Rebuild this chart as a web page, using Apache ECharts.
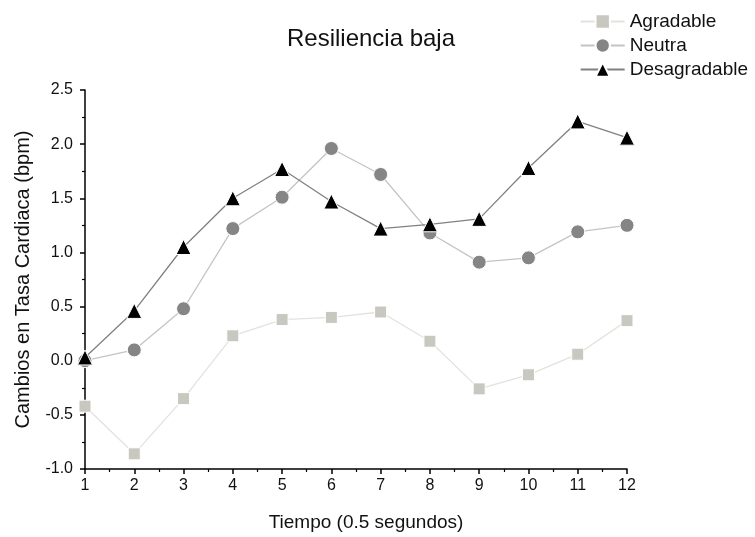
<!DOCTYPE html>
<html><head><meta charset="utf-8">
<script src="https://cdn.jsdelivr.net/npm/echarts@6/dist/echarts.min.js"></script>
<style>html,body{margin:0;padding:0;background:#fff}#c{width:755px;height:537px}</style>
</head><body><div id="c"></div>
<script>
const tiempo = [1,2,3,4,5,6,7,8,9,10,11,12];
const agradable = [-0.42,-0.86,-0.35,0.23,0.38,0.40,0.45,0.18,-0.26,-0.13,0.06,0.37];
const neutra = [0.00,0.10,0.48,1.22,1.51,1.96,1.72,1.18,0.91,0.95,1.19,1.25];
const desagradable = [0.03,0.46,1.05,1.50,1.77,1.47,1.22,1.26,1.31,1.78,2.21,2.06];
const seriesNames = ['Agradable','Neutra','Desagradable'];

const pair = arr => tiempo.map((t,i)=>[t,arr[i]]);
const F = 'Liberation Sans, Arial, sans-serif';
const chart = echarts.init(document.getElementById('c'), null, {renderer:'canvas'});
chart.setOption({
  animation:false,
  title:{text:'Resiliencia baja',left:366,top:22,textAlign:'center',textStyle:{fontFamily:F,fontSize:24,fontWeight:'normal',color:'#111'}},
  legend:{orient:'vertical',right:2,top:7,itemWidth:44,itemHeight:18,itemGap:5,
    textStyle:{fontFamily:F,fontSize:19,color:'#111'},data:seriesNames},
  grid:{left:85,right:128,top:90,bottom:66},
  xAxis:{type:'value',min:1,max:12,interval:1,name:'Tiempo (0.5 segundos)',nameLocation:'middle',nameGap:44,
    nameTextStyle:{fontFamily:F,fontSize:19,color:'#111',padding:[0,0,0,20]},
    axisLine:{onZero:false,lineStyle:{color:'#000',width:1.5}},
    axisTick:{show:true,inside:false,length:5,lineStyle:{color:'#000',width:1.5}},
    minorTick:{show:true,splitNumber:2,length:3,lineStyle:{color:'#000',width:1.2}},
    splitLine:{show:false},
    axisLabel:{fontFamily:F,fontSize:16,color:'#111',margin:9}},
  yAxis:{type:'value',min:-1,max:2.5,interval:0.5,name:'Cambios en Tasa Cardiaca (bpm)',nameLocation:'middle',nameGap:52,
    nameTextStyle:{fontFamily:F,fontSize:20,color:'#111',padding:[0,0,0,0]},
    axisLine:{show:true,onZero:false,lineStyle:{color:'#000',width:1.5}},
    axisTick:{show:true,inside:false,length:5,lineStyle:{color:'#000',width:1.5}},
    minorTick:{show:true,splitNumber:2,length:3,lineStyle:{color:'#000',width:1.2}},
    splitLine:{show:false},
    axisLabel:{fontFamily:F,fontSize:16,color:'#111',margin:12,formatter:v=>v.toFixed(1)}},
  series:[
    {name:seriesNames[0],type:'line',data:pair(agradable),symbol:'rect',symbolSize:12,
      lineStyle:{color:'#e2e2de',width:1.3},itemStyle:{color:'#c8c8c0',borderColor:'#fff',borderWidth:1},z:2},
    {name:seriesNames[1],type:'line',data:pair(neutra),symbol:'circle',symbolSize:14,
      lineStyle:{color:'#c4c4c4',width:1.3},itemStyle:{color:'#858585',borderColor:'#fff',borderWidth:1},z:3},
    {name:seriesNames[2],type:'line',data:pair(desagradable),symbol:'triangle',symbolSize:15,
      lineStyle:{color:'#808080',width:1.3},itemStyle:{color:'#000',borderColor:'#fff',borderWidth:1},z:4}
  ]
});
</script></body></html>
